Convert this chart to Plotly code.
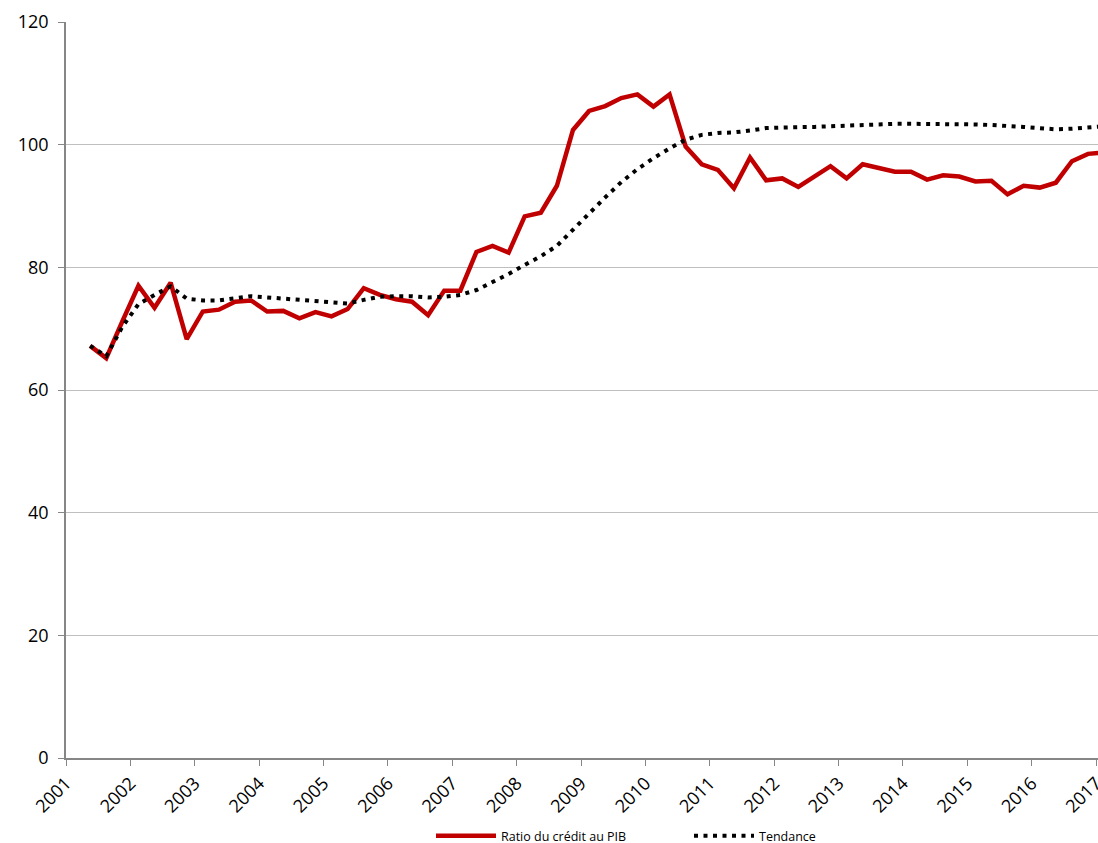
import plotly.graph_objects as go

# Quarterly observations, first quarter shown is 2001 Q2
first_quarter_year = 2001
first_quarter_index = 2  # Q2 (1-based)

ratio_credit_pib = [
    67.2, 65.2, 71.2, 77.0, 73.4, 77.5, 68.3, 72.8, 73.1, 74.4,
    74.6, 72.8, 72.9, 71.7, 72.7, 72.0, 73.2, 76.6, 75.5, 74.8,
    74.4, 72.2, 76.2, 76.2, 82.5, 83.5, 82.4, 88.3, 88.9, 93.3,
    102.4, 105.5, 106.3, 107.6, 108.2, 106.2, 108.2, 99.7, 96.8, 95.9,
    92.9, 97.9, 94.2, 94.5, 93.1, 94.7, 96.5, 94.5, 96.8, 96.2,
    95.6, 95.6, 94.3, 95.0, 94.8, 94.0, 94.1, 91.9, 93.3, 93.0,
    93.8, 97.3, 98.5, 98.7,
]

tendance = [
    67.2, 65.5, 70.3, 74.0, 75.5, 76.9, 74.9, 74.6, 74.6, 75.0,
    75.3, 75.1, 74.9, 74.7, 74.5, 74.2, 74.1, 74.7, 75.2, 75.3,
    75.3, 75.1, 75.2, 75.5, 76.3, 77.6, 78.9, 80.4, 81.8, 83.5,
    86.2, 88.9, 91.4, 93.9, 96.0, 97.8, 99.4, 100.8, 101.6, 101.9,
    102.0, 102.3, 102.7, 102.8, 102.8, 102.9, 103.0, 103.1, 103.3, 103.4,
    103.4, 103.4, 103.4, 103.4, 103.4, 103.3, 103.2, 103.1, 102.9, 102.7,
    102.5, 102.6, 102.8, 103.0,
]

year_ticks = list(range(2001, 2018))
y_ticks = [0, 20, 40, 60, 80, 100, 120]

# decimal-year position of each quarter
quarters = []
y, q = first_quarter_year, first_quarter_index
for _ in range(len(ratio_credit_pib)):
    quarters.append((y, q))
    q += 1
    if q > 4:
        q = 1
        y += 1
x_pos = [yy + (qq - 1) * 0.25 + 0.125 for yy, qq in quarters]

fig = go.Figure()
fig.add_trace(go.Scatter(
    x=x_pos, y=ratio_credit_pib, mode="lines",
    name="Ratio du crédit au PIB",
    line=dict(color="#C00000", width=4.5),
))
fig.add_trace(go.Scatter(
    x=x_pos, y=tendance, mode="lines",
    name="Tendance",
    line=dict(color="#000000", width=4, dash="4px,5.5px"),
))

W, H = 1098, 843
L, T, B = 66, 22, 85
plot_w = W - L
plot_h = H - T - B

fig.update_layout(
    width=W, height=H,
    margin=dict(l=L, r=0, t=T, b=B, autoexpand=False),
    paper_bgcolor="white", plot_bgcolor="white",
    font=dict(family="Open Sans, Liberation Sans, sans-serif", color="#000000"),
    showlegend=True,
    legend=dict(
        orientation="h", x=(431 - L) / plot_w, xanchor="left",
        y=-(836 - (T + plot_h)) / plot_h, yanchor="middle",
        font=dict(size=12.5), itemwidth=60, traceorder="normal",
        entrywidth=183, entrywidthmode="pixels",
        bgcolor="rgba(0,0,0,0)",
    ),
    xaxis=dict(
        range=[2001, 2017.03], tickmode="array", tickvals=year_ticks,
        ticktext=[str(v) for v in year_ticks], tickangle=-45,
        ticklabeloverflow="allow",
        showgrid=False, zeroline=False, automargin=False,
        showline=True, linecolor="#868686", linewidth=1.5,
        ticks="outside", ticklen=6, tickcolor="#868686",
        tickfont=dict(size=18),
    ),
    yaxis=dict(
        range=[0, 120], tickmode="array", tickvals=y_ticks,
        showgrid=True, gridcolor="#BFBFBF", gridwidth=1,
        zeroline=False, showline=True, linecolor="#868686", linewidth=1.5,
        ticks="outside", ticklen=6, tickcolor="#868686", automargin=False,
        tickfont=dict(size=18), ticklabelstandoff=6,
    ),
)

fig.write_html(
    "out.html",
    config={"displayModeBar": False},
    post_script="document.body.style.margin='0';document.body.style.overflow='hidden';",
)
